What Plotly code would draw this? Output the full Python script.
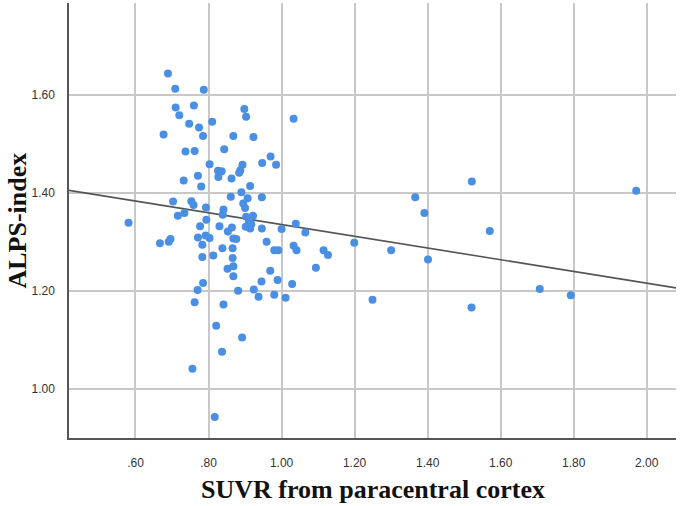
import plotly.graph_objects as go
import numpy as np

suvr = [0.689, 0.709, 0.787, 0.710, 0.760, 0.720, 0.898, 0.903, 1.033, 0.747,
        0.810, 0.774, 0.677, 0.785, 0.868, 0.923, 0.737, 0.762, 0.843, 0.803,
        0.893, 0.947, 0.970, 0.985, 0.826, 0.836, 0.827, 0.887, 0.884, 0.771,
        0.863, 0.732, 0.780, 0.914, 0.890, 0.861, 0.907, 0.946, 0.703, 0.753,
        0.759, 0.895, 0.900, 0.793, 0.841, 0.839, 0.734, 0.716, 0.903, 0.922,
        0.794, 0.581, 0.911, 0.917, 0.902, 0.914, 1.039, 0.777, 0.830, 0.864,
        0.853, 0.946, 1.000, 1.065, 0.771, 0.792, 0.803, 0.868, 0.876, 0.696,
        0.691, 0.667, 0.783, 0.959, 0.838, 0.866, 0.980, 0.991, 1.033, 1.041,
        1.115, 1.127, 0.783, 0.813, 0.866, 0.852, 0.868, 0.868, 0.969, 0.989,
        0.945, 1.029, 1.094, 0.785, 0.770, 0.881, 0.924, 0.937, 0.980, 1.011,
        0.762, 0.841, 0.821, 0.892, 0.837, 0.756, 0.817,
        1.521, 1.971, 1.366, 1.391, 1.570, 1.199, 1.300, 1.401, 1.249, 1.520,
        1.707, 1.792]

alps = [1.643, 1.612, 1.610, 1.574, 1.578, 1.558, 1.571, 1.555, 1.551, 1.541,
        1.545, 1.533, 1.519, 1.516, 1.516, 1.514, 1.484, 1.485, 1.489, 1.458,
        1.457, 1.461, 1.474, 1.457, 1.445, 1.444, 1.432, 1.446, 1.441, 1.435,
        1.429, 1.425, 1.413, 1.414, 1.401, 1.392, 1.389, 1.391, 1.382, 1.383,
        1.375, 1.378, 1.369, 1.370, 1.366, 1.355, 1.359, 1.353, 1.351, 1.353,
        1.345, 1.339, 1.342, 1.336, 1.331, 1.327, 1.337, 1.332, 1.332, 1.329,
        1.321, 1.327, 1.326, 1.319, 1.309, 1.313, 1.308, 1.307, 1.306, 1.306,
        1.300, 1.297, 1.294, 1.300, 1.287, 1.287, 1.283, 1.283, 1.292, 1.283,
        1.283, 1.273, 1.269, 1.272, 1.267, 1.245, 1.250, 1.230, 1.241, 1.222,
        1.219, 1.214, 1.247, 1.216, 1.202, 1.200, 1.203, 1.188, 1.192, 1.186,
        1.177, 1.172, 1.129, 1.105, 1.076, 1.041, 0.943,
        1.423, 1.404, 1.391, 1.359, 1.322, 1.298, 1.283, 1.264, 1.182, 1.166,
        1.204, 1.191]

fit_intercept = 1.455
fit_slope = -0.1197

x_ticks = [0.6, 0.8, 1.0, 1.2, 1.4, 1.6, 1.8, 2.0]
x_tick_labels = [".60", ".80", "1.00", "1.20", "1.40", "1.60", "1.80", "2.00"]
y_ticks = [1.0, 1.2, 1.4, 1.6]
y_tick_labels = ["1.00", "1.20", "1.40", "1.60"]

x_title = "SUVR from paracentral cortex"
y_title = "ALPS-index"

x_range = [0.418, 2.08]
y_range = [0.90, 1.787]

fig = go.Figure()

line_x = np.array(x_range)
line_y = fit_intercept + fit_slope * line_x
fig.add_trace(go.Scatter(x=line_x, y=line_y, mode="lines",
                         line=dict(color="#555555", width=1.6),
                         hoverinfo="skip", showlegend=False))

fig.add_trace(go.Scatter(x=suvr, y=alps, mode="markers",
                         marker=dict(color="#4a8fe3", size=8, line=dict(width=0)),
                         showlegend=False))

title_font = dict(family="Liberation Serif, Times New Roman", size=26, color="#111111")

fig.update_layout(
    width=680, height=506,
    margin=dict(l=69, r=4, t=3, b=68),
    paper_bgcolor="white", plot_bgcolor="white",
    font=dict(family="Liberation Sans, Arial", size=12, color="#333333"),
    annotations=[
        dict(text="<b>" + x_title + "</b>", xref="paper", yref="paper",
             x=0.5, y=0, yshift=-51, xanchor="center", yanchor="middle",
             showarrow=False, font=title_font),
        dict(text="<b>" + y_title + "</b>", xref="paper", yref="paper",
             x=0, y=0.5, xshift=-52, xanchor="center", yanchor="middle",
             textangle=-90, showarrow=False, font=title_font),
    ],
)

fig.update_xaxes(
    range=x_range, tickvals=x_ticks, ticktext=x_tick_labels,
    showgrid=True, gridcolor="#c8c8c8", gridwidth=1.5,
    showline=True, linecolor="#555555", linewidth=1.5,
    zeroline=False, ticks="", ticklabelstandoff=13, automargin=False,
)
fig.update_yaxes(
    range=y_range, tickvals=y_ticks, ticktext=y_tick_labels,
    showgrid=True, gridcolor="#c8c8c8", gridwidth=1.5,
    showline=True, linecolor="#555555", linewidth=1.5,
    zeroline=False, ticks="", ticklabelstandoff=10, automargin=False,
)

fig.write_html("out.html", config={"displayModeBar": False},
               post_script="document.body.style.margin='0px';document.body.style.padding='0px';")
